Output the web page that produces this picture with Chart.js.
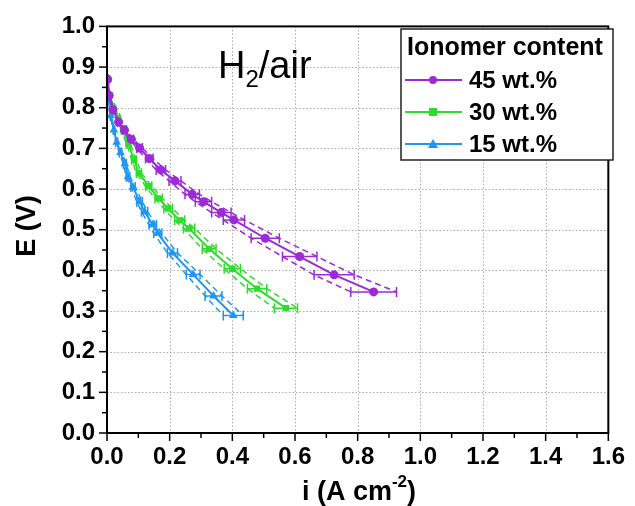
<!DOCTYPE html>
<html>
<head>
<meta charset="utf-8">
<script src="https://cdn.jsdelivr.net/npm/chart.js@4.4.1/dist/chart.umd.min.js"></script>
<style>
  html, body { margin: 0; padding: 0; background: #fff; }
</style>
</head>
<body>
<canvas id="polChart" width="635" height="506"></canvas>
<script>
'use strict'

// current density (A cm-2), potential (V), horizontal error (A cm-2)
const x45 = [0.002, 0.007, 0.019, 0.037, 0.056, 0.078, 0.104, 0.135, 0.172, 0.217, 0.272, 0.308, 0.365, 0.405, 0.505, 0.615, 0.725, 0.851];
const y45 = [0.870, 0.830, 0.795, 0.765, 0.745, 0.722, 0.701, 0.675, 0.647, 0.620, 0.587, 0.569, 0.542, 0.524, 0.479, 0.434, 0.389, 0.347];
const e45 = [0.001, 0.002, 0.003, 0.004, 0.006, 0.007, 0.009, 0.012, 0.015, 0.019, 0.023, 0.026, 0.031, 0.034, 0.045, 0.055, 0.064, 0.073];

const x30 = [0.002, 0.007, 0.020, 0.036, 0.051, 0.068, 0.086, 0.102, 0.133, 0.165, 0.195, 0.232, 0.262, 0.326, 0.400, 0.479, 0.571];
const y30 = [0.870, 0.830, 0.800, 0.775, 0.745, 0.712, 0.672, 0.639, 0.607, 0.577, 0.552, 0.523, 0.503, 0.453, 0.404, 0.355, 0.307];
const e30 = [0.001, 0.002, 0.003, 0.004, 0.005, 0.006, 0.007, 0.008, 0.010, 0.012, 0.014, 0.016, 0.018, 0.022, 0.026, 0.031, 0.037];

const x15 = [0.002, 0.005, 0.012, 0.022, 0.031, 0.043, 0.057, 0.067, 0.083, 0.104, 0.120, 0.146, 0.162, 0.209, 0.275, 0.340, 0.403];
const y15 = [0.870, 0.820, 0.780, 0.745, 0.715, 0.690, 0.662, 0.630, 0.605, 0.569, 0.544, 0.512, 0.491, 0.443, 0.390, 0.337, 0.289];
const e15 = [0.001, 0.001, 0.002, 0.002, 0.003, 0.004, 0.005, 0.006, 0.007, 0.009, 0.010, 0.012, 0.013, 0.016, 0.022, 0.027, 0.032];

const seriesLabels = ['45 wt.%', '30 wt.%', '15 wt.%'];
const seriesColors = ['#9a2bd6', '#2edc2e', '#2196f0'];
const seriesMarkers = ['circle', 'rect', 'triangle'];
const seriesX = [x45, x30, x15];
const seriesY = [y45, y30, y15];
const seriesErr = [e45, e30, e15];

const legendTitle = 'Ionomer content';
const gasLabel = ['H', '2', '/air'];

const FONT = '"Liberation Sans", Arial, sans-serif';

function points(xs, ys, es, sign) {
    return xs.map((x, i) => ({ x: x + sign * es[i], y: ys[i] }));
}

const datasets = [];
seriesLabels.forEach((label, s) => {
    datasets.push({
        label: label,
        data: points(seriesX[s], seriesY[s], seriesErr[s], 0),
        errors: seriesErr[s],
        isMain: true,
        showLine: true,
        borderColor: seriesColors[s],
        backgroundColor: seriesColors[s],
        borderWidth: 2,
        pointStyle: seriesMarkers[s],
        pointRadius: seriesMarkers[s] === 'triangle' ? 5 : 4.5,
        pointBorderWidth: 0
    });
    [-1, 1].forEach(sign => {
        datasets.push({
            label: label + (sign < 0 ? ' low' : ' high'),
            data: points(seriesX[s], seriesY[s], seriesErr[s], sign),
            showLine: true,
            borderColor: seriesColors[s],
            borderWidth: 1.5,
            borderDash: [6, 4],
            pointRadius: 0
        });
    });
});

const frameAndText = {
    id: 'frameAndText',
    beforeDatasetsDraw(chart) {
        const { ctx, chartArea: a, scales: { x, y } } = chart;
        ctx.save();
        ctx.strokeStyle = '#aaaaaa';
        ctx.lineWidth = 1;
        ctx.setLineDash([1.5, 2]);
        for (let v = 0.2; v < 1.59; v += 0.2) {
            const px = Math.round(x.getPixelForValue(v)) + 0.5;
            ctx.beginPath(); ctx.moveTo(px, a.top); ctx.lineTo(px, a.bottom); ctx.stroke();
        }
        for (let v = 0.1; v < 0.99; v += 0.1) {
            const py = Math.round(y.getPixelForValue(v)) + 0.5;
            ctx.beginPath(); ctx.moveTo(a.left, py); ctx.lineTo(a.right, py); ctx.stroke();
        }
        ctx.restore();

        // horizontal error bars
        ctx.save();
        chart.data.datasets.forEach(ds => {
            if (!ds.isMain) return;
            ctx.strokeStyle = ds.borderColor;
            ctx.lineWidth = 1.5;
            ds.data.forEach((p, i) => {
                const x1 = x.getPixelForValue(p.x - ds.errors[i]);
                const x2 = x.getPixelForValue(p.x + ds.errors[i]);
                const py = y.getPixelForValue(p.y);
                ctx.beginPath();
                ctx.moveTo(x1, py); ctx.lineTo(x2, py);
                ctx.moveTo(x1, py - 5); ctx.lineTo(x1, py + 5);
                ctx.moveTo(x2, py - 5); ctx.lineTo(x2, py + 5);
                ctx.stroke();
            });
        });
        ctx.restore();
    },
    afterDatasetsDraw(chart) {
        const { ctx, chartArea: a, scales: { x, y } } = chart;
        ctx.save();
        ctx.strokeStyle = '#000';
        ctx.lineWidth = 2;
        ctx.strokeRect(a.left, a.top, a.right - a.left, a.bottom - a.top);
        ctx.lineWidth = 1.5;
        for (let v = 0; v < 1.61; v += 0.1) {
            const px = x.getPixelForValue(v);
            const major = Math.abs(v / 0.2 - Math.round(v / 0.2)) < 0.01;
            ctx.beginPath(); ctx.moveTo(px, a.bottom); ctx.lineTo(px, a.bottom + (major ? 8 : 5)); ctx.stroke();
        }
        for (let v = 0; v < 1.01; v += 0.05) {
            const py = y.getPixelForValue(v);
            const major = Math.abs(v / 0.1 - Math.round(v / 0.1)) < 0.01;
            ctx.beginPath(); ctx.moveTo(a.left, py); ctx.lineTo(a.left - (major ? 8 : 5), py); ctx.stroke();
        }

        // gas label
        ctx.fillStyle = '#000';
        ctx.textBaseline = 'alphabetic';
        ctx.textAlign = 'left';
        ctx.font = '38px ' + FONT;
        let tx = 218;
        ctx.fillText(gasLabel[0], tx, 78);
        tx += ctx.measureText(gasLabel[0]).width;
        ctx.font = '24px ' + FONT;
        ctx.fillText(gasLabel[1], tx, 87);
        tx += ctx.measureText(gasLabel[1]).width;
        ctx.font = '38px ' + FONT;
        ctx.fillText(gasLabel[2], tx, 78);

        // legend box
        ctx.fillStyle = '#fff';
        ctx.fillRect(401, 29, 212, 131);
        ctx.strokeStyle = '#222';
        ctx.lineWidth = 1.5;
        ctx.strokeRect(401, 29, 212, 131);
        ctx.fillStyle = '#000';
        ctx.textBaseline = 'middle';
        ctx.textAlign = 'center';
        ctx.font = 'bold 25px ' + FONT;
        ctx.fillText(legendTitle, 505, 48);
        ctx.textAlign = 'left';
        ctx.font = 'bold 24px ' + FONT;
        seriesLabels.forEach((label, s) => {
            const ly = 80 + s * 32;
            ctx.strokeStyle = seriesColors[s];
            ctx.lineWidth = 2;
            ctx.beginPath(); ctx.moveTo(405, ly); ctx.lineTo(462, ly); ctx.stroke();
            ctx.fillStyle = seriesColors[s];
            const r = 4;
            if (seriesMarkers[s] === 'circle') {
                ctx.beginPath(); ctx.arc(433, ly, r, 0, Math.PI * 2); ctx.fill();
            } else if (seriesMarkers[s] === 'rect') {
                ctx.fillRect(433 - r, ly - r, 2 * r, 2 * r);
            } else {
                ctx.beginPath(); ctx.moveTo(433, ly - 5); ctx.lineTo(438, ly + 4); ctx.lineTo(428, ly + 4); ctx.closePath(); ctx.fill();
            }
            ctx.fillStyle = '#000';
            ctx.fillText(label, 469, ly + 1);
        });

        // axis titles
        ctx.font = 'bold 27px ' + FONT;
        ctx.textAlign = 'center';
        ctx.textBaseline = 'middle';
        ctx.save();
        ctx.translate(28, 226);
        ctx.rotate(-Math.PI / 2);
        ctx.fillText('E (V)', 0, 0);
        ctx.restore();

        ctx.textAlign = 'left';
        ctx.textBaseline = 'alphabetic';
        const p1 = 'i (A cm', sup = '-2', p2 = ')';
        ctx.font = 'bold 27px ' + FONT;
        const w1 = ctx.measureText(p1).width, w3 = ctx.measureText(p2).width;
        ctx.font = 'bold 17px ' + FONT;
        const w2 = ctx.measureText(sup).width;
        let sx = 359 - (w1 + w2 + w3) / 2;
        ctx.font = 'bold 27px ' + FONT;
        ctx.fillText(p1, sx, 500);
        sx += w1;
        ctx.font = 'bold 17px ' + FONT;
        ctx.fillText(sup, sx, 487);
        sx += w2;
        ctx.font = 'bold 27px ' + FONT;
        ctx.fillText(p2, sx, 500);
        ctx.restore();
    }
};

const config = {
    type: 'scatter',
    data: { datasets: datasets },
    options: {
        responsive: false,
        animation: false,
        devicePixelRatio: 1,
        layout: { padding: { top: 19, right: 19, left: 0, bottom: 0 } },
        plugins: { legend: { display: false }, tooltip: { enabled: false } },
        scales: {
            x: {
                type: 'linear', min: 0, max: 1.6,
                grid: { display: false, drawTicks: false },
                border: { display: false },
                ticks: {
                    stepSize: 0.2, padding: 10, color: '#000',
                    font: { family: FONT, size: 24, weight: 'bold' },
                    callback: v => v.toFixed(1)
                },
                afterFit(scale) { scale.height = 73; }
            },
            y: {
                type: 'linear', min: 0, max: 1.0,
                grid: { display: false, drawTicks: false },
                border: { display: false },
                ticks: {
                    stepSize: 0.1, padding: 12, color: '#000',
                    font: { family: FONT, size: 24, weight: 'bold' },
                    callback: v => v.toFixed(1)
                },
                afterFit(scale) { scale.width = 107; }
            }
        }
    },
    plugins: [frameAndText]
};

const polChart = new Chart(document.getElementById('polChart'), config);
</script>
</body>
</html>
